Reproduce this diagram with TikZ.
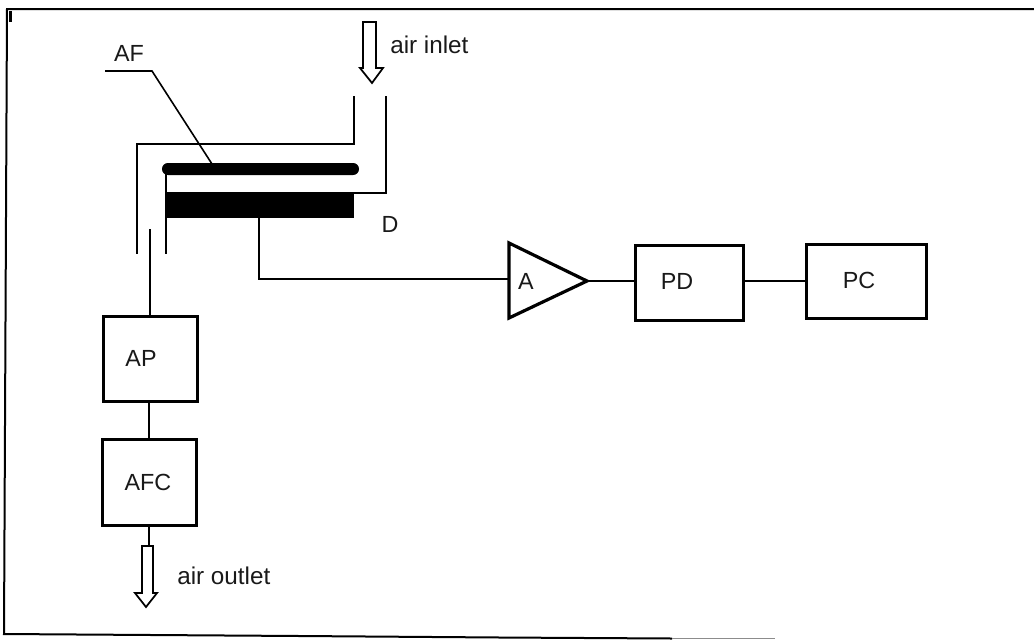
\documentclass[tikz,border=0pt]{standalone}
\usepackage{fontspec}
\setmainfont{Liberation Sans}
\tikzset{
  lbl/.style={inner sep=0pt,font=\fontsize{17.5}{20}\selectfont,text=black!90},
  airlbl/.style={inner sep=0pt,font=\fontsize{18.2}{20}\selectfont,text=black!90,anchor=west},
  blockbox/.style={draw=black,line width=2.4pt,fill=white,inner sep=0pt,anchor=north west},
  thin line/.style={draw=black,line width=1.2pt},
  wall/.style={draw=black,line width=1.4pt},
  flowarrow/.style={draw=black,line width=1.3pt,fill=white,line join=miter},
}
\begin{document}
\begin{tikzpicture}[x=0.75pt,y=-0.75pt]
\useasboundingbox (0,0) rectangle (1034,639);
% frame (open on the right; bottom runs off the page and fades)
\draw[line width=1.5pt] (1034,9) -- (7,9) -- (4,634) -- (300,636) -- (500,637.5) -- (672,638.5);
\draw[line width=1pt,black!45] (672,638.5) -- (775,638.5);
\draw[line width=1.6pt] (10.5,11) -- (10.5,22);
% blocks
\node[blockbox,minimum width=70.5pt,minimum height=63.5pt] (AP) at (102,315) {};
\node[lbl] at (141,358) {AP};
\node[blockbox,minimum width=70.5pt,minimum height=64.5pt] (AFC) at (101,438) {};
\node[lbl] at (148,482) {AFC};
\node[blockbox,minimum width=81pt,minimum height=56pt] (PD) at (634,244) {};
\node[lbl] at (677,281) {PD};
\node[blockbox,minimum width=90pt,minimum height=55.5pt] (PC) at (805,243) {};
\node[lbl] at (859,280) {PC};
% amplifier
\coordinate (ampW) at (509,281);
\coordinate (ampE) at (587,281);
\draw[line width=2.4pt,line join=miter,fill=white] (509,243) -- (ampE) -- (509,318) -- cycle;
\node[lbl] (Alab) at (526,281) {A};
% tube
\draw[wall] (354,96) -- (354,144) -- (137,144) -- (137,254);
\draw[wall] (386,96) -- (386,193) -- (166,193);
\draw[wall] (166,170) -- (166,254);
% filter, detector
\fill[black,rounded corners=4.4pt] (162,163) rectangle (359,175);
\fill[black] (166,193) rectangle (354,218);
\coordinate (det) at (259,218);
% leader
\node[lbl] (AFl) at (129,53) {AF};
\coordinate (afa) at (105,71);
\coordinate (afb) at (152,71);
\coordinate (afc) at (212,164);
\draw[thin line] (afa) -- (afb) -- (afc);
\node[lbl] (Dl) at (390,224) {D};
% connectors
\coordinate (probe) at (150,229);
\draw[thin line] (probe) -- (AP.north -| probe);
\draw[thin line] (AP.south -| 149,0) -- (AFC.north -| 149,0);
\coordinate (outtop) at (149,546);
\draw[thin line] (AFC.south -| outtop) -- (outtop);
\draw[thin line] (det) -- (259,279) -- (ampW |- 0,279);
\draw[thin line] (ampE) -- (PD.west |- ampE);
\draw[thin line] (PD.east |- ampE) -- (PC.west |- ampE);
% flow arrows
\draw[flowarrow] (363,22) -- (376,22) -- (376,68) -- (383,68) -- (372,83) -- (360,68) -- (363,68) -- cycle;
\node[airlbl] at (390,45) {air inlet};
\draw[flowarrow] (142,546) -- (153,546) -- (153,593) -- (157,593) -- (146,607) -- (135,593) -- (142,593) -- cycle;
\node[airlbl] at (177,576) {air outlet};
\end{tikzpicture}
\end{document}
